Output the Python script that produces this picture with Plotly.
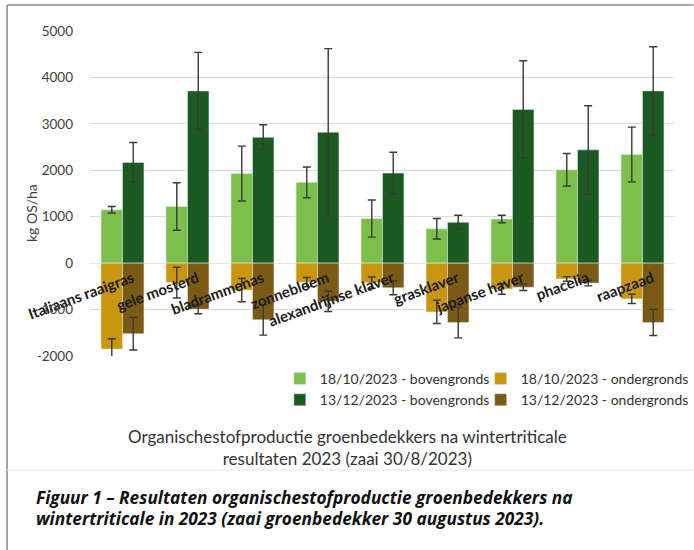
import plotly.graph_objects as go

# ---------------- data ----------------
categories = ["Italiaans raaigras", "gele mosterd", "bladrammenas", "zonnebloem",
              "alexandrijnse klaver", "grasklaver", "japanse haver", "phacelia", "raapzaad"]

boven_1810 = [1150, 1220, 1930, 1740, 960, 740, 950, 2010, 2340]
boven_1810_err = [70, 510, 590, 330, 400, 220, 80, 350, 590]
boven_1312 = [2170, 3710, 2710, 2820, 1940, 880, 3310, 2440, 3710]
boven_1312_err = [430, 830, 270, 1800, 450, 150, 1050, 950, 950]
onder_1810 = [-1850, -420, -580, -410, -420, -1050, -560, -340, -770]
onder_1810_err = [220, 330, 250, 100, 120, 250, 110, 50, 100]
onder_1312 = [-1520, -990, -1220, -820, -530, -1280, -520, -430, -1280]
onder_1312_err = [350, 100, 330, 220, 150, 330, 70, 60, 280]

y_ticks = [-2000, -1000, 0, 1000, 2000, 3000, 4000, 5000]
y_tick_labels = ["-2000", "-1000", "0", "1000", "2000", "3000", "4000", "5000"]

title_lines = ["Organischestofproductie groenbedekkers na wintertriticale",
               "resultaten 2023 (zaai 30/8/2023)"]
caption_lines = ["Figuur 1 – Resultaten organischestofproductie groenbedekkers na",
                 "wintertriticale in 2023 (zaai groenbedekker 30 augustus 2023)."]

# ---------------- layout geometry ----------------
W, H = 694, 550
ML, MR, MT, MB = 90, 18.5, 31, 194
PW, PH = W - ML - MR, H - MT - MB


def px_x(px):
    return (px - ML) / PW


def px_y(py):
    return (H - MB - py) / PH


FONT = "Lato, Calibri, Carlito, sans-serif"
CAP_FONT = "Open Sans, sans-serif"
C_LG, C_DG, C_GO, C_BR = "#7cc04b", "#1b5a20", "#c9960f", "#7a5a14"
ERR = "#3a3a3a"


def err(vals):
    return dict(type="data", array=vals, color=ERR, thickness=1.4, width=4)


fig = go.Figure()
fig.add_bar(x=categories, y=boven_1810, name="18/10/2023 - bovengronds", marker_color=C_LG,
            offsetgroup="a", error_y=err(boven_1810_err), legend="legend")
fig.add_bar(x=categories, y=onder_1810, name="18/10/2023 - ondergronds", marker_color=C_GO,
            offsetgroup="a", error_y=err(onder_1810_err), legend="legend2")
fig.add_bar(x=categories, y=boven_1312, name="13/12/2023 - bovengronds", marker_color=C_DG,
            offsetgroup="b", error_y=err(boven_1312_err), legend="legend")
fig.add_bar(x=categories, y=onder_1312, name="13/12/2023 - ondergronds", marker_color=C_BR,
            offsetgroup="b", error_y=err(onder_1312_err), legend="legend2")

y0_frac = 2000 / 7000

legend_common = dict(orientation="v", xanchor="left", yanchor="top", bgcolor="rgba(0,0,0,0)",
                     font=dict(family=FONT, size=14, color="#333333"), itemwidth=30,
                     tracegroupgap=0, itemclick=False)

fig.update_layout(
    width=W, height=H,
    margin=dict(l=ML, r=MR, t=MT, b=MB, pad=0, autoexpand=False),
    paper_bgcolor="white", plot_bgcolor="white",
    barmode="group", bargap=0.34, bargroupgap=0,
    font=dict(family=FONT, color="#404040"),
    xaxis=dict(anchor="free", position=y0_frac, showline=False, ticks="", automargin=False,
               tickangle=-20, tickfont=dict(family=FONT, size=15, color="#1a1a1a", weight="bold"),
               ticklabelshift=10, ticklabelstandoff=3,
               showgrid=False, zeroline=False),
    yaxis=dict(range=[-2000, 5000], tickvals=y_ticks, ticktext=y_tick_labels, automargin=False,
               showgrid=True, gridcolor="#dcdcdc",
               gridwidth=1, zeroline=True, zerolinecolor="#e6e6e6", zerolinewidth=1,
               tickfont=dict(family=FONT, size=13.5, color="#404040"), ticks="",
               ticklabelstandoff=16, showline=False),
    legend=dict(x=px_x(280), y=px_y(363), **legend_common),
    legend2=dict(x=px_x(481), y=px_y(363), **legend_common),
    showlegend=True,
)

ann = [
    dict(text="kg OS/ha", x=px_x(31), y=px_y(213), textangle=-90, showarrow=False,
         font=dict(family=FONT, size=14, color="#404040"), xanchor="center", yanchor="middle"),
    dict(text="<br>".join(title_lines),
         x=px_x(348), y=px_y(447), showarrow=False, align="center",
         font=dict(family=FONT, size=17, color="#333333"), xanchor="center", yanchor="middle"),
    dict(text="<b><i>" + caption_lines[0] + "</i></b>",
         x=px_x(34), y=px_y(497), showarrow=False, align="left",
         font=dict(family=CAP_FONT, size=17.3, color="#111111"), xanchor="left", yanchor="middle"),
    dict(text="<b><i>" + caption_lines[1] + "</i></b>",
         x=px_x(34), y=px_y(518), showarrow=False, align="left",
         font=dict(family=CAP_FONT, size=17.3, color="#111111"), xanchor="left", yanchor="middle"),
]
fig.update_layout(annotations=[dict(xref="paper", yref="paper", **a) for a in ann])

shapes = [
    dict(type="line", x0=px_x(7), x1=px_x(7), y0=px_y(5), y1=px_y(550), line=dict(color="#8a8a8a", width=1.5)),
    dict(type="line", x0=px_x(7), x1=px_x(694), y0=px_y(5), y1=px_y(5), line=dict(color="#8a8a8a", width=1.5)),
    dict(type="line", x0=px_x(7), x1=px_x(694), y0=px_y(470), y1=px_y(470), line=dict(color="#e6e6e6", width=1)),
]
fig.update_layout(shapes=[dict(xref="paper", yref="paper", **s) for s in shapes])

fig.write_html("out.html", config={"displayModeBar": False},
               post_script="document.body.style.margin='0';")
